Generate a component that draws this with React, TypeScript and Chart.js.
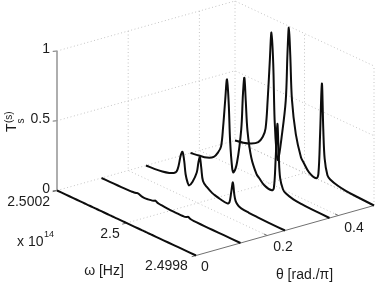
import React, { useEffect, useRef } from "react";
import { Chart } from "chart.js/auto";

// angular frequency grid (in units of 1e14 Hz), from the back of the box to the front
const omegaGrid = [
  2.5002, 2.500176, 2.500153, 2.500133, 2.50012, 2.500112, 2.500106, 2.5001, 2.500095, 2.50009, 2.500086, 2.50008,
  2.500076, 2.500066, 2.500054, 2.500049, 2.500045, 2.500041, 2.500036, 2.500025, 2.50001, 2.500002, 2.499987,
  2.499966, 2.49996, 2.499955, 2.49995, 2.499946, 2.499942, 2.499934, 2.499926, 2.499904, 2.49988, 2.499848, 2.4998,
];
const thetas = [0, 0.125, 0.25, 0.375, 0.5];
const T0 = [0, 0, 0, 0, 0, 0, 0, 0, 0, 0, 0, 0, 0, 0, 0, 0, 0, 0, 0, 0, 0, 0, 0, 0, 0, 0, 0, 0, 0, 0, 0, 0, 0, 0, 0];
const T1 = [0, 0, 0.001, 0.002, 0.003, 0.004, 0.006, 0.009, 0.012, 0.008, 0.004, 0.001, 0, 0.003, 0.008, 0.013, 0.018, 0.013, 0.008, 0.005, 0.002, 0.001, 0.0005, 0, 0.001, 0.006, 0.012, 0.006, 0.003, 0.001, 0.001, 0, 0, 0, 0];
const T2 = [0, 0.004, 0.012, 0.025, 0.04, 0.06, 0.11, 0.19, 0.22, 0.16, 0.07, 0.015, 0.002, 0.04, 0.12, 0.2, 0.24, 0.17, 0.08, 0.05, 0.025, 0.018, 0.008, 0.001, 0.015, 0.09, 0.17, 0.09, 0.045, 0.02, 0.012, 0.006, 0.003, 0.001, 0];
const T3 = [0, 0.01, 0.022, 0.05, 0.1, 0.15, 0.3, 0.5, 0.65, 0.48, 0.22, 0.03, 0.005, 0.09, 0.34, 0.6, 0.72, 0.56, 0.35, 0.17, 0.07, 0.05, 0.015, 0.005, 0.03, 0.24, 0.5, 0.27, 0.12, 0.05, 0.03, 0.012, 0.006, 0.003, 0];
const T4 = [0, 0.012, 0.033, 0.067, 0.12, 0.19, 0.4, 0.68, 0.897, 0.68, 0.28, 0.04, 0.005, 0.177, 0.456, 0.8, 0.99, 0.8, 0.48, 0.25, 0.1, 0.07, 0.02, 0.002, 0.04, 0.34, 0.7, 0.38, 0.17, 0.06, 0.04, 0.02, 0.01, 0.005, 0];
const seriesT = [T0, T1, T2, T3, T4];

const thetaTicks = [0, 0.2, 0.4];
const omegaTicks = [2.5002, 2.5, 2.4998];
const zTicks = [0, 0.5, 1];

const project = (theta: number, omega: number, z: number) => {
  const t = (2.5002 - omega) / 0.0004;
  return { x: 57 + 356 * theta + 139 * t, y: 190.5 - 100 * theta + 65 * t - 139.5 * z };
};

const FONT = '"Liberation Sans", Arial, sans-serif';
const line = (data: { x: number; y: number }[], color: string, width: number, dash: number[] = [], tension = 0) => ({
  type: "scatter" as const,
  data,
  showLine: true,
  pointRadius: 0,
  borderColor: color,
  borderWidth: width,
  borderDash: dash,
  tension,
  borderCapStyle: "butt" as const,
  borderJoinStyle: "round" as const,
});

const labels = {
  id: "labels",
  afterDraw(chart: any) {
    const ctx = chart.ctx;
    const put = (s: string, x: number, y: number, size = 14, align = "center") => {
      ctx.font = `${size}px ${FONT}`;
      ctx.textAlign = align;
      ctx.textBaseline = "middle";
      ctx.fillStyle = "#1c1c1c";
      ctx.fillText(s, x, y);
    };
    ctx.save();
    put("1", 50, 49.5, 14, "right");
    put("0.5", 50, 119, 14, "right");
    put("0", 50, 189, 14, "right");
    put("2.5002", 50, 202, 14, "right");
    put("2.5", 110, 234, 14);
    put("2.4998", 166.5, 266, 14);
    put("x 10", 17, 242.5, 14, "left");
    put("14", 44, 235, 9, "left");
    put("ω [Hz]", 104, 271, 14);
    put("0", 205, 267, 14);
    put("0.2", 283, 247, 14);
    put("0.4", 354, 228, 14);
    put("θ [rad./π]", 304.5, 275.5, 14);
    const rot = (s: string, x: number, y: number, size: number) => {
      ctx.save();
      ctx.translate(x, y);
      ctx.rotate(-Math.PI / 2);
      ctx.font = `${size}px ${FONT}`;
      ctx.textAlign = "left";
      ctx.textBaseline = "alphabetic";
      ctx.fillStyle = "#1c1c1c";
      ctx.fillText(s, 0, 0);
      ctx.restore();
    };
    rot("T", 15.5, 132, 14);
    rot("(s)", 11.5, 123, 10);
    rot("s", 24, 123.5, 10);
    ctx.restore();
  },
};

export default function App() {
  const ref = useRef<HTMLCanvasElement>(null);
  useEffect(() => {
    document.body.style.margin = "0";
    const omegaBack = omegaTicks[0];
    const omegaFront = omegaTicks[2];
    const thetaMax = thetas[thetas.length - 1];
    const grid = "#c4c4c4";
    const dots = [1, 2.5];
    const curves = seriesT.map((vals, i) =>
      line(vals.map((v, k) => project(thetas[i], omegaGrid[k], v)), "#0d0d0d", 2, [], 0.35),
    );
    const gridSets: any[] = [];
    for (const z of zTicks) {
      gridSets.push(line([project(0, omegaBack, z), project(thetaMax, omegaBack, z), project(thetaMax, omegaFront, z)], grid, 1, dots));
    }
    for (const th of [...thetaTicks.slice(1), thetaMax]) {
      gridSets.push(line([project(th, omegaBack, 1), project(th, omegaBack, 0), project(th, omegaFront, 0)], grid, 1, dots));
    }
    gridSets.push(line([project(0, omegaTicks[1], 0), project(thetaMax, omegaTicks[1], 0), project(thetaMax, omegaTicks[1], 1)], grid, 1, dots));
    gridSets.push(line([project(thetaMax, omegaFront, 0), project(thetaMax, omegaFront, 1)], grid, 1, dots));
    const axisSets: any[] = [
      line([project(0, omegaBack, 0), project(0, omegaBack, 1)], "#9a9a9a", 1.6),
      line([project(0, omegaFront, 0), project(thetaMax, omegaFront, 0)], "#707070", 1),
      ...zTicks.map((z) => line([project(0, omegaBack, z), project(-0.012, omegaBack, z + 0.006)], "#707070", 1)),
      ...thetaTicks.map((th) => line([project(th, omegaFront, 0), project(th, omegaFront + 0.00001, 0)], "#707070", 1)),
      ...omegaTicks.map((om) => line([project(0, om, 0), project(-0.012, om, 0)], "#707070", 1)),
    ];
    const chart = new Chart(ref.current!, {
      type: "scatter",
      data: { datasets: [...curves, ...axisSets, ...gridSets] as any },
      options: {
        animation: false,
        responsive: false,
        layout: { padding: 0 },
        plugins: { legend: { display: false }, tooltip: { enabled: false } },
        scales: {
          x: { type: "linear", min: 0, max: 382, display: false },
          y: { type: "linear", min: 0, max: 285, reverse: true, display: false },
        },
      },
      plugins: [labels],
    });
    return () => chart.destroy();
  }, []);
  return <canvas ref={ref} width={382} height={285} style={{ display: "block", background: "#fff" }} />;
}
